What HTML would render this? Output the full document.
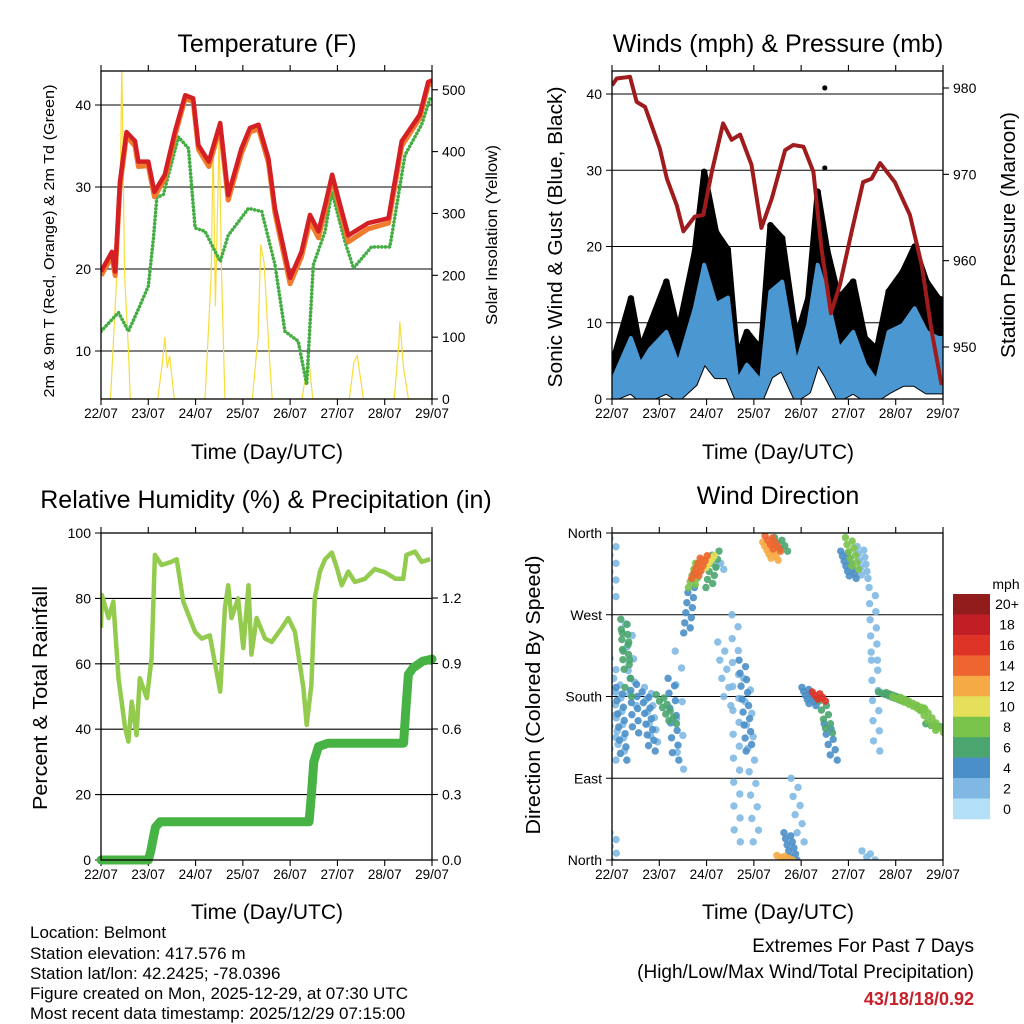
<!DOCTYPE html>
<html><head><meta charset="utf-8"><style>
html,body{margin:0;padding:0;background:#fff}
svg{display:block;font-family:"Liberation Sans",sans-serif}
</style></head><body>
<svg id="fig" width="1024" height="1024" viewBox="0 0 1024 1024" xmlns="http://www.w3.org/2000/svg">
<defs>
<clipPath id="c1"><rect x="101" y="71" width="331" height="328"/></clipPath>
<clipPath id="c2"><rect x="612" y="71" width="331" height="328"/></clipPath>
<clipPath id="c3"><rect x="101" y="533" width="331" height="327"/></clipPath>
<clipPath id="c4"><rect x="612" y="533" width="331" height="327"/></clipPath>
</defs>
<text x="267" y="52" font-size="25" text-anchor="middle">Temperature (F)</text>
<text x="778" y="52" font-size="25" text-anchor="middle">Winds (mph) &amp; Pressure (mb)</text>
<text x="266" y="508" font-size="25" text-anchor="middle">Relative Humidity (%) &amp; Precipitation (in)</text>
<text x="778" y="504" font-size="25" text-anchor="middle">Wind Direction</text>
<text x="267" y="459" font-size="21" text-anchor="middle">Time (Day/UTC)</text>
<text x="778" y="459" font-size="21" text-anchor="middle">Time (Day/UTC)</text>
<text x="267" y="919" font-size="21" text-anchor="middle">Time (Day/UTC)</text>
<text x="778" y="919" font-size="21" text-anchor="middle">Time (Day/UTC)</text>
<text transform="translate(54,241) rotate(-90)" font-size="15" text-anchor="middle" textLength="313" lengthAdjust="spacingAndGlyphs">2m &amp; 9m T (Red, Orange) &amp; 2m Td (Green)</text>
<text transform="translate(497,235) rotate(-90)" font-size="16" text-anchor="middle" textLength="180" lengthAdjust="spacingAndGlyphs">Solar Insolation (Yellow)</text>
<text transform="translate(562,237) rotate(-90)" font-size="20" text-anchor="middle" textLength="301" lengthAdjust="spacingAndGlyphs">Sonic Wind &amp; Gust (Blue, Black)</text>
<text transform="translate(1015,235) rotate(-90)" font-size="20" text-anchor="middle" textLength="246" lengthAdjust="spacingAndGlyphs">Station Pressure (Maroon)</text>
<text transform="translate(47,698) rotate(-90)" font-size="20" text-anchor="middle" textLength="224" lengthAdjust="spacingAndGlyphs">Percent &amp; Total Rainfall</text>
<text transform="translate(540,695) rotate(-90)" font-size="20" text-anchor="middle" textLength="279" lengthAdjust="spacingAndGlyphs">Direction (Colored By Speed)</text>
<g font-size="17">
<text x="30" y="938">Location: Belmont</text>
<text x="30" y="959">Station elevation: 417.576 m</text>
<text x="30" y="979">Station lat/lon: 42.2425; -78.0396</text>
<text x="30" y="999">Figure created on Mon, 2025-12-29, at 07:30 UTC</text>
<text x="30" y="1019">Most recent data timestamp: 2025/12/29 07:15:00</text>
</g>
<text x="974" y="952" font-size="19" text-anchor="end">Extremes For Past 7 Days</text>
<text x="974" y="978" font-size="19" text-anchor="end">(High/Low/Max Wind/Total Precipitation)</text>
<text x="974" y="1005" font-size="18" font-weight="bold" fill="#c8202a" text-anchor="end">43/18/18/0.92</text>
<text x="1006" y="589" font-size="14" text-anchor="middle">mph</text>
</svg>
<script>
// ---------- data ----------
const dayLabels = ['22/07','23/07','24/07','25/07','26/07','27/07','28/07','29/07'];
const tempTicks = [10,20,30,40];
const solarTicks = [0,100,200,300,400,500];
const windTicks = [0,10,20,30,40];
const presTicks = [950,960,970,980];
const rhTicks = [0,20,40,60,80,100];
const precipTicks = ['0.0','0.3','0.6','0.9','1.2'];
const dirLabels = ['North','East','South','West','North'];
const speedBins = ['0','2','4','6','8','10','12','14','16','18','20+'];

const redT = [0,0.23,0.3,0.4,0.54,0.72,0.79,1.0,1.13,1.35,1.56,1.78,1.95,2.06,2.28,2.52,2.69,2.97,3.15,3.33,3.54,3.68,4.0,4.24,4.42,4.6,4.74,4.89,5.02,5.23,5.65,6.08,6.36,6.74,6.92,7.0];
const tempRed = [19.7,22.1,19.7,30.6,36.7,35.6,33.1,33.1,29.4,31.5,36.7,41.2,40.8,35.1,33.1,37.8,29.0,34.7,37.2,37.6,33.5,27.4,18.9,22.1,26.6,24.6,27.8,31.5,28.6,24.1,25.6,26.2,35.6,38.8,42.8,43.0];
const tempOrange = [19.2,21.5,19.2,30.0,36.2,35.0,32.5,32.6,28.8,31.0,36.2,40.8,40.4,34.6,32.5,37.3,28.4,34.1,36.7,37.1,33.0,26.8,18.2,21.5,25.8,23.8,27.2,31.0,28.0,23.3,24.9,25.6,35.0,38.4,42.4,42.6];
const dewT = [0,0.37,0.58,0.79,1.0,1.11,1.18,1.32,1.64,1.85,1.99,2.2,2.52,2.69,3.12,3.4,3.68,3.89,4.17,4.35,4.49,4.74,4.88,5.16,5.34,5.72,6.11,6.43,6.78,6.96,7.0];
const dewPoint = [12.4,14.7,12.4,15.1,17.9,23.8,28.7,29.1,36.1,34.7,25.0,24.6,20.9,24.1,27.4,27.0,20.5,12.4,11.2,5.9,20.5,24.6,29.4,23.3,20.1,22.7,22.7,33.9,37.6,40.8,41.0];
const solarT = [0,0.2,0.3,0.4,0.44,0.5,0.58,0.62,1.2,1.3,1.35,1.4,1.45,1.55,2.2,2.33,2.37,2.42,2.5,2.55,2.62,3.2,3.32,3.38,3.45,3.55,3.62,4.25,4.35,4.4,4.48,5.25,5.35,5.42,5.55,6.2,6.3,6.32,6.4,6.5,7.0];
const solarV = [0,0,150,300,540,200,80,0,0,60,100,50,70,0,0,200,420,150,430,200,0,0,100,250,220,80,0,0,50,60,0,0,60,70,0,0,90,125,50,0,0];

const windT = [0,0.4,0.6,0.8,1.15,1.4,1.75,1.95,2.2,2.45,2.65,2.85,3.15,3.35,3.6,3.9,4.15,4.35,4.55,4.8,5.1,5.35,5.6,5.85,6.15,6.4,6.65,6.9,7.0];
const windHi = [2.3,8.0,4.5,6.5,8.8,4.5,11.9,17.6,12.4,13.3,2.3,4.5,2.3,14.1,15.4,4.5,9.7,17.6,13.3,6.5,8.8,4.5,2.3,8.8,9.7,11.9,8.8,8.0,8.0];
const windLo = [0,1,0,0,1,0,2,5,3,3,0,0,0,3,4,0,1,5,3,0,1,0,0,1,2,2,1,1,1];
const gust = [4.5,13.2,6.5,9.7,15.4,8.8,19.3,29.8,21.9,19.6,5.4,8.8,6.5,22.8,21.1,8.0,13.2,27.2,19.6,13.2,15.4,8.0,6.5,14.1,16.7,20,15.4,13.2,13];
const gustOutT = [4.5,4.5];
const gustOutV = [40.8,30.3];
const presT = [0,0.1,0.38,0.52,0.7,1.01,1.16,1.37,1.51,1.75,1.93,2.11,2.35,2.53,2.71,2.95,3.16,3.38,3.66,3.83,4.05,4.26,4.43,4.63,4.82,5.07,5.31,5.49,5.67,5.98,6.3,6.55,6.76,6.97];
const pressure = [980.3,981.1,981.3,978.4,977.8,973.0,969.5,966.4,963.4,965.1,965.3,970.3,975.9,974.0,974.6,971.1,963.8,967.2,972.8,973.4,973.2,970.3,961.4,953.9,957.2,963.4,969.1,969.5,971.3,969.1,965.3,959.5,951.8,945.6];

const rhT = [0,0.02,0.16,0.26,0.37,0.51,0.58,0.65,0.75,0.82,0.97,1.07,1.14,1.28,1.49,1.6,1.74,1.99,2.13,2.3,2.52,2.62,2.69,2.76,2.9,3.01,3.12,3.18,3.29,3.47,3.61,3.82,3.96,4.1,4.28,4.35,4.45,4.52,4.63,4.74,4.88,4.99,5.09,5.23,5.37,5.58,5.79,6.0,6.23,6.39,6.46,6.64,6.78,6.96];
const rh = [71,81,74,79,55.6,40.4,36.2,48.4,38.2,55.6,49.5,61.8,93.3,90.2,91.2,92,79,69.8,67.7,68.7,51.5,77,84,74,80,64.8,84,62.8,74,67.7,66.7,70.9,74,69.8,52.6,41.3,53.6,80,88.2,92,94,89.2,84,88.2,85,86,89,88,86,86,93.3,94.3,91.2,92];
const precipT = [0,1.0,1.05,1.15,1.25,4.4,4.45,4.5,4.6,4.8,6.4,6.45,6.5,6.6,6.8,7.0];
const precip = [0,0,0.04,0.15,0.175,0.175,0.3,0.45,0.52,0.535,0.535,0.7,0.85,0.88,0.91,0.92];

// wind-direction streaks: [tStart, tEnd, dirStart, dirEnd, speed, count]
const dirStreakT0 = [0.02,0.02,0.02,0.25,0.28,0.1,0.15,0.35,0.45,0.7,0.75,1.0,1.25,1.4,1.58,1.68,1.75,1.9,2.05,2.2,2.3,2.6,2.75,2.85,3.25,3.3,3.5,3.55,3.7,3.85,4.08,4.3,4.45,4.55,4.9,5.0,5.25,5.5,5.55,5.7,6.0,6.5,6.7,5.35];
const dirStreakT1 = [0.02,0.02,0.03,0.3,0.35,0.2,0.25,0.45,0.5,0.85,0.9,1.3,1.35,1.45,1.68,1.85,1.95,2.1,2.2,2.3,2.45,2.65,2.9,3.05,3.45,3.5,3.65,3.75,3.85,4.0,4.25,4.45,4.6,4.7,5.1,5.15,5.35,5.55,5.6,6.2,6.6,6.95,6.98,5.5];
const dirStreakD0 = [354,222,30,265,250,200,190,260,200,185,190,182,200,230,250,300,310,320,300,330,240,270,220,200,350,357,355,5,30,90,190,185,175,150,340,355,345,300,220,185,180,170,150,10];
const dirStreakD1 = [290,110,0,215,180,120,110,170,140,120,130,150,110,100,300,330,335,335,340,320,170,20,120,20,330,340,340,0,0,20,170,175,140,110,310,320,310,220,120,175,165,140,145,0];
const dirStreakS = [2,3,2,6,7,3,4,2,4,4,3,7,4,3,4,8,14,11,7,3,2,2,4,2,12,15,6,13,5,3,5,17,7,4,4,8,3,2,3,7,9,8,7,3];
const dirStreakN = [8,10,5,10,8,12,12,8,10,12,10,10,12,8,10,10,10,10,10,4,8,20,15,15,10,8,6,6,10,8,10,6,8,8,12,10,10,10,10,15,15,12,6,4];

const binColors = ['#b3e0f7','#7fb9e3','#4a8fc8','#4aa56e','#7ac34a','#e4e05a','#f6aa45','#ee6530','#de3428','#c11f25','#921b1c'];

// ---------- helpers ----------
const NS = 'http://www.w3.org/2000/svg';
const svg = document.getElementById('fig');
function mk(tag, attrs, parent){ const e=document.createElementNS(NS,tag); for(const k in attrs) e.setAttribute(k,attrs[k]); (parent||svg).appendChild(e); return e; }
function pathOf(ts, vs, fx, fy){ return ts.map((t,i)=>(i?'L':'M')+fx(t).toFixed(1)+','+fy(vs[i]).toFixed(1)).join(''); }

const panels = [
 {x0:101,x1:432,y0:71,y1:399,id:'temp'},
 {x0:612,x1:943,y0:71,y1:399,id:'wind'},
 {x0:101,x1:432,y0:533,y1:860,id:'rh'},
 {x0:612,x1:943,y0:533,y1:860,id:'wd'}
];
function xs(p){ return t => p.x0 + t*(p.x1-p.x0)/7; }

const P1=panels[0], P2=panels[1], P3=panels[2], P4=panels[3];
const yTemp = v => 351 - (v-10)*8.2;
const ySolar = v => 399 - v*0.6185;
const yWind = v => 399 - v*7.625;
const yPres = v => 347 - (v-950)*8.633;
const yRH = v => 860 - v*3.27;
const yPrec = v => 860 - v*218.33;
const yDir = d => 860 - d*327/360;

function gridAndTicks(p, leftVals, leftFy, leftLabels, rightVals, rightFy, rightLabels){
  const g = mk('g',{});
  
  
  leftVals.forEach((v,i)=>{
    const y=leftFy(v);
    const l=mk('line',{x1:p.x0-6,x2:p.x1,y1:y,y2:y,stroke:'#000','stroke-width':1.1},g);
    
    
    const t=mk('text',{x:p.x0-10,y:y+5,'font-size':14,'text-anchor':'end'},g);
    t.textContent = leftLabels[i];
    
    
  });
  rightVals.forEach((v,i)=>{
    const y=rightFy(v);
    const l=mk('line',{x1:p.x1,x2:p.x1+6,y1:y,y2:y,stroke:'#000','stroke-width':1.1},g);
    
    
    if(rightLabels){
      const t=mk('text',{x:p.x1+10,y:y+5,'font-size':14},g);
      t.textContent = rightLabels[i];
      
      
    }
  });
  const fx=xs(p);
  dayLabels.forEach((d,i)=>{
    const x=fx(i);
    const a=mk('line',{x1:x,x2:x,y1:p.y0-6,y2:p.y0,stroke:'#000','stroke-width':1.1},g);
    
    
    const b=mk('line',{x1:x,x2:x,y1:p.y1,y2:p.y1+6,stroke:'#000','stroke-width':1.1},g);
    
    
    const t=mk('text',{x:x,y:p.y1+19,'font-size':13.5,'text-anchor':'middle'},g);
    t.textContent=d;
    
    
  });
}
function frame(p){
  const r=mk('rect',{x:p.x0,y:p.y0,width:p.x1-p.x0,height:p.y1-p.y0,fill:'none',stroke:'#000','stroke-width':1.3});
  
  
}

// ---------- panel 1: temperature ----------
gridAndTicks(P1, tempTicks, yTemp, tempTicks, solarTicks, ySolar, solarTicks);
{
  const fx=xs(P1);
  const g=mk('g',{'clip-path':'url(#c1)'});
  
  
  const s=mk('path',{d:pathOf(solarT,solarV,fx,ySolar),fill:'none',stroke:'#f7dc3a','stroke-width':1.2},g);
  
  
  const d=mk('path',{d:pathOf(dewT,dewPoint,fx,yTemp),fill:'none',stroke:'#43ad44','stroke-width':3.6,'stroke-dasharray':'0.1 3.6','stroke-linecap':'round'},g);
  
  
  const o=mk('path',{d:pathOf(redT,tempOrange,fx,yTemp),fill:'none',stroke:'#f07b2d','stroke-width':5,'stroke-linejoin':'round'},g);
  
  
  const r=mk('path',{d:pathOf(redT,tempRed,fx,yTemp),fill:'none',stroke:'#d42025','stroke-width':4.5,'stroke-linejoin':'round'},g);
  
  
}
frame(P1);

// ---------- panel 2: wind & pressure ----------
gridAndTicks(P2, windTicks, yWind, windTicks, presTicks, yPres, presTicks);
{
  const fx=xs(P2);
  const g=mk('g',{'clip-path':'url(#c2)'});
  
  
  const lowBack = windT.slice().reverse().map((t,i)=>'L'+fx(t).toFixed(1)+','+yWind(windLo[windT.length-1-i]).toFixed(1)).join('')+'Z';
  const ga=mk('path',{d:pathOf(windT,gust,fx,yWind)+lowBack,fill:'#000',stroke:'#000','stroke-width':6,'stroke-linejoin':'round'},g);
  
  
  windT.forEach((t,i)=>{
    const c=mk('circle',{cx:fx(t),cy:yWind(gust[i]),r:3.2},g);
    
    
  });
  gustOutT.forEach((t,i)=>{
    const c=mk('circle',{cx:fx(t),cy:yWind(gustOutV[i]),r:2.6},g);
    
    
  });
  const b=mk('path',{d:pathOf(windT,windHi,fx,yWind)+lowBack,fill:'#4b97d2',stroke:'#4b97d2','stroke-width':4,'stroke-linejoin':'round'},g);
  
  
  const p=mk('path',{d:pathOf(presT,pressure,fx,yPres),fill:'none',stroke:'#a01c1c','stroke-width':4,'stroke-linejoin':'round'},g);
  
  
}
frame(P2);

// ---------- panel 3: RH & precip ----------
gridAndTicks(P3, rhTicks, yRH, rhTicks, precipTicks.map(Number), yPrec, precipTicks);
{
  const fx=xs(P3);
  const g=mk('g',{'clip-path':'url(#c3)'});
  
  
  const r=mk('path',{d:pathOf(rhT,rh,fx,yRH),fill:'none',stroke:'#93cb4e','stroke-width':4.5,'stroke-linejoin':'round'},g);
  
  
  const pr=mk('path',{d:pathOf(precipT,precip,fx,yPrec),fill:'none',stroke:'#48b345','stroke-width':9,'stroke-linejoin':'round','stroke-linecap':'round'});
  
  
}
frame(P3);

// ---------- panel 4: wind direction ----------
gridAndTicks(P4, [0,90,180,270,360], yDir, dirLabels, [], yDir, null);
{
  const fx=xs(P4);
  const g=mk('g',{'clip-path':'url(#c4)'});
  
  
  const order = dirStreakS.map((s,i)=>i).sort((a,b)=>dirStreakS[a]-dirStreakS[b]);
  const offs = [-3,3];
  order.forEach(i=>{
    const n=dirStreakN[i];
    const bin=Math.min(10,Math.floor(dirStreakS[i]/2));
    for(let k=0;k<n;k++){
      const f = n>1 ? k/(n-1) : 0;
      const t = dirStreakT0[i] + (dirStreakT1[i]-dirStreakT0[i])*f;
      const d = dirStreakD0[i] + (dirStreakD1[i]-dirStreakD0[i])*f;
      const dx = offs[k%2];
      const c=mk('circle',{cx:fx(t)+dx,cy:yDir(d),r:3.7,fill:binColors[bin],'fill-opacity':0.9},g);
      
      
    }
  });
}
frame(P4);

// colorbar
{
  const g=mk('g',{});
  
  
  const n=speedBins.length, top=594, h=225/n;
  for(let i=0;i<n;i++){
    const idx=n-1-i;
    const r=mk('rect',{x:953,y:top+i*h,width:37,height:h+0.3,fill:binColors[idx]},g);
    
    
    const t=mk('text',{x:1007,y:top+i*h+h/2+5,'font-size':14,'text-anchor':'middle'},g);
    t.textContent=speedBins[idx];
    
    
  }
}
</script>
</body></html>
